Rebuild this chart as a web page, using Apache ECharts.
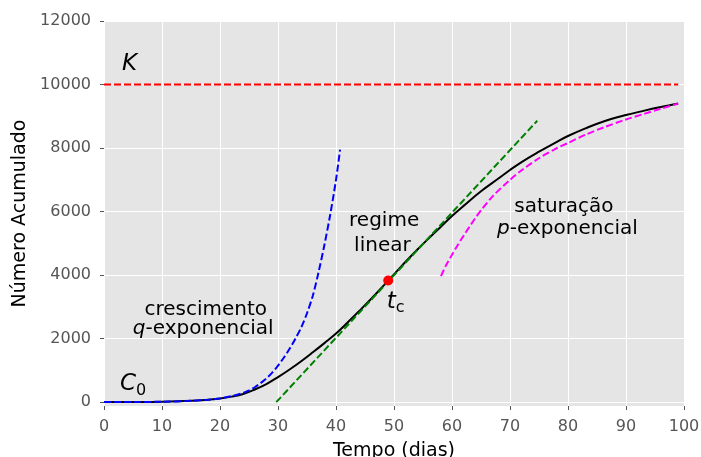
<!DOCTYPE html>
<html>
<head>
<meta charset="utf-8">
<script src="https://cdn.jsdelivr.net/npm/echarts@6/dist/echarts.min.js"></script>
<style>
html, body { margin: 0; padding: 0; background: #fff; }
#chart-container { width: 701px; height: 457px; }
</style>
</head>
<body>
<div id="chart-container"></div>
<script>
// curva acumulada (preta)
const tempo = [0, 5, 10, 15, 18, 20, 22, 24, 26, 28, 30, 32, 34, 36, 38, 40, 42, 44, 46, 48, 49, 50, 52, 54, 56, 58, 60, 62, 65, 68, 70, 72, 75, 78, 80, 83, 86, 90, 93, 96, 99]
const acumulado = [2, 5, 14, 42, 80, 115, 175, 260, 400, 570, 790, 1030, 1290, 1570, 1860, 2160, 2510, 2870, 3240, 3630, 3830, 4025, 4420, 4800, 5160, 5510, 5860, 6180, 6640, 7040, 7310, 7560, 7885, 8190, 8380, 8620, 8830, 9040, 9170, 9290, 9400]

// crescimento q-exponencial (azul)
const tempoQ = [0, 5, 10, 15, 18, 20, 22, 24, 25, 26, 27, 28, 29, 30, 31, 32, 33, 34, 35, 36, 37, 38, 39, 40, 40.7]
const valorQ = [2, 5, 14, 42, 80, 118, 190, 290, 370, 470, 600, 750, 930, 1150, 1400, 1680, 2000, 2350, 2800, 3350, 4100, 4950, 5900, 7000, 7950]

// saturação p-exponencial (magenta)
const tempoP = [58.1, 59, 60, 61, 62, 63, 64, 65, 67, 70, 72, 75, 78, 80, 83, 86, 90, 93, 96, 99]
const valorP = [3970, 4320, 4640, 4950, 5240, 5520, 5790, 6040, 6480, 7000, 7300, 7680, 7990, 8160, 8420, 8640, 8900, 9070, 9240, 9400]

// regime linear (verde), capacidade K (vermelho), ponto tc
const tempoLinear = [29.7, 74.7]
const valorLinear = [0, 8860]
const tempoK = [0, 99]
const valorK = [10000, 10000]
const tc = [49, 3830]

const yTicks = [0, 2000, 4000, 6000, 8000, 10000, 12000]

const pares = (xs, ys) => xs.map((x, i) => [x, ys[i]])

const font = 'DejaVu Sans'

// textos anotados, em coordenadas dos dados
const notas = [
  {value: [4.4, 10646], text: '{m|K}'},
  {value: [5.0, 560], text: '{m|C}{s|0}'},
  {value: [50.3, 3150], text: '{m|t}{s|c}'},
  {value: [17.55, 2898], text: 'crescimento'},
  {value: [17.1, 2300], text: '{i|q}-exponencial'},
  {value: [48.3, 5700], text: 'regime'},
  {value: [48.0, 4913], text: 'linear'},
  {value: [79.3, 6142], text: 'saturação'},
  {value: [79.9, 5449], text: '{i|p}-exponencial'}
]

const dom = document.getElementById('chart-container')
const myChart = echarts.init(dom, null, {renderer: 'canvas'})

const dashed = (color) => ({color: color, width: 2, type: [7, 3]})

const options = {
  animation: false,
  textStyle: {fontFamily: font},
  grid: {
    left: 104,
    right: 17,
    top: 21,
    bottom: 51,
    outerBoundsMode: 'none',
    show: true,
    backgroundColor: '#E5E5E5',
    borderWidth: 0
  },
  xAxis: {
    type: 'value',
    min: 0,
    max: 100,
    interval: 10,
    name: 'Tempo (dias)',
    nameLocation: 'middle',
    nameGap: 36,
    nameTextStyle: {fontFamily: font, fontSize: 19, color: '#000'},
    axisLine: {show: false, onZero: false},
    axisTick: {show: true, length: 4, lineStyle: {color: '#555'}},
    axisLabel: {color: '#555', fontSize: 16, fontFamily: font, margin: 13},
    splitLine: {show: true, lineStyle: {color: '#fff', width: 1}}
  },
  yAxis: {
    type: 'value',
    min: -120,
    max: 12000,
    name: 'Número Acumulado',
    nameLocation: 'middle',
    nameGap: 71,
    nameTextStyle: {fontFamily: font, fontSize: 19, color: '#000'},
    axisLine: {show: false, onZero: false},
    axisTick: {show: true, length: 4, lineStyle: {color: '#555'}, customValues: yTicks},
    axisLabel: {
      color: '#555', fontSize: 16, fontFamily: font, margin: 13,
      customValues: yTicks,
      formatter: v => String(v)
    },
    splitLine: {show: true, lineStyle: {color: '#fff', width: 1}}
  },
  series: [
    {
      name: 'acumulado',
      type: 'line',
      data: pares(tempo, acumulado),
      showSymbol: false,
      smooth: 0.4,
      lineStyle: {color: '#000', width: 2},
      z: 2
    },
    {
      name: 'K',
      type: 'line',
      data: pares(tempoK, valorK),
      showSymbol: false,
      lineStyle: dashed('#ff0000'),
      z: 3
    },
    {
      name: 'q-exponencial',
      type: 'line',
      data: pares(tempoQ, valorQ),
      showSymbol: false,
      smooth: 0.3,
      lineStyle: dashed('#0000ff'),
      z: 3
    },
    {
      name: 'linear',
      type: 'line',
      data: pares(tempoLinear, valorLinear),
      showSymbol: false,
      lineStyle: dashed('#008000'),
      z: 3
    },
    {
      name: 'p-exponencial',
      type: 'line',
      data: pares(tempoP, valorP),
      showSymbol: false,
      smooth: 0.3,
      lineStyle: dashed('#ff00ff'),
      z: 3
    },
    {
      name: 'tc',
      type: 'scatter',
      data: [tc],
      symbolSize: 10,
      itemStyle: {color: '#ff0000', opacity: 1},
      z: 4
    },
    {
      name: 'notas',
      type: 'scatter',
      symbolSize: 0,
      silent: true,
      itemStyle: {opacity: 1},
      data: notas.map(n => ({
        value: n.value,
        label: {formatter: n.text}
      })),
      label: {
        show: true,
        position: 'inside',
        align: 'center',
        verticalAlign: 'middle',
        fontFamily: font,
        fontSize: 20,
        color: '#000',
        opacity: 1,
        rich: {
          i: {fontFamily: font, fontSize: 20, fontStyle: 'italic', color: '#000'},
          m: {fontFamily: font, fontSize: 23, fontStyle: 'italic', color: '#000', lineHeight: 28},
          s: {fontFamily: font, fontSize: 16, color: '#000', verticalAlign: 'bottom', lineHeight: 20}
        }
      },
      z: 5
    }
  ]
}

myChart.setOption(options)

window.addEventListener('resize', myChart.resize)
</script>
</body>
</html>
